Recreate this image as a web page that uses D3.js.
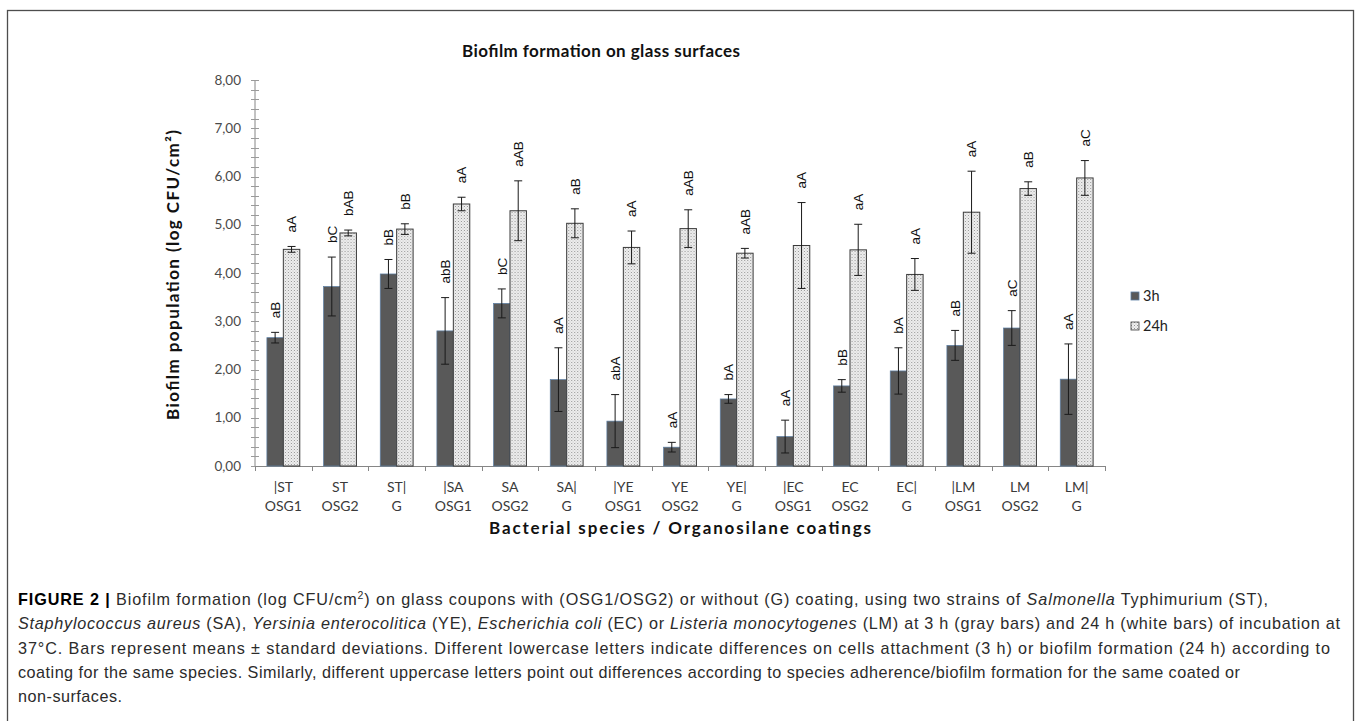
<!DOCTYPE html>
<html>
<head>
<meta charset="utf-8">
<script src="https://cdn.jsdelivr.net/npm/d3@7"></script>
<style>
  body { margin: 0; background: #fff; }
  svg { display: block; }
  .chart text { font-family: Lato, "Open Sans", sans-serif; }
  .caption { font-family: "Liberation Sans", Arial, sans-serif; font-size: 16.2px; fill: #2b2b2b; }
</style>
</head>
<body>
<div id="chart"></div>
<script>
// categories (two line tick labels)
var labelTop = ["|ST", "ST", "ST|", "|SA", "SA", "SA|", "|YE", "YE", "YE|", "|EC", "EC", "EC|", "|LM", "LM", "LM|"];
var labelBottom = ["OSG1", "OSG2", "G", "OSG1", "OSG2", "G", "OSG1", "OSG2", "G", "OSG1", "OSG2", "G", "OSG1", "OSG2", "G"];
var series = ["3h", "24h"];

// means and standard deviations (log CFU/cm2)
var mean3h = [2.66, 3.72, 3.98, 2.80, 3.37, 1.79, 0.93, 0.39, 1.39, 0.61, 1.66, 1.97, 2.50, 2.86, 1.80];
var sd3h = [0.11, 0.61, 0.30, 0.69, 0.30, 0.66, 0.55, 0.10, 0.09, 0.34, 0.13, 0.48, 0.31, 0.36, 0.73];
var mean24h = [4.49, 4.83, 4.91, 5.43, 5.29, 5.03, 4.53, 4.92, 4.41, 4.57, 4.48, 3.97, 5.26, 5.75, 5.97];
var sd24h = [0.06, 0.06, 0.11, 0.14, 0.62, 0.30, 0.34, 0.39, 0.10, 0.89, 0.53, 0.33, 0.85, 0.14, 0.36];

// significance letters
var letters3h = ["aB", "bC", "bB", "abB", "bC", "aA", "abA", "aA", "bA", "aA", "bB", "bA", "aB", "aC", "aA"];
var letters24h = ["aA", "bAB", "bB", "aA", "aAB", "aB", "aA", "aAB", "aAB", "aA", "aA", "aA", "aA", "aB", "aC"];

var yTicks = [0, 1, 2, 3, 4, 5, 6, 7, 8];

var data = labelTop.map(function (d, i) {
    return {
        key: i,
        top: d,
        bottom: labelBottom[i],
        values: [
            { s: "3h", mean: mean3h[i], sd: sd3h[i], letter: letters3h[i] },
            { s: "24h", mean: mean24h[i], sd: sd24h[i], letter: letters24h[i] }
        ]
    };
});

var W = 1358, H = 721;
var margin = { top: 80, left: 255 };
var width = 850, height = 386;

var svg = d3.select("#chart").append("svg")
    .attr("width", W)
    .attr("height", H);

// dotted fill like the excel pattern
var defs = svg.append("defs");
var pat = defs.append("pattern")
    .attr("id", "dots")
    .attr("width", 3)
    .attr("height", 3)
    .attr("patternUnits", "userSpaceOnUse");
pat.append("rect").attr("width", 3).attr("height", 3).attr("fill", "#efefef");
pat.append("rect").attr("x", 0).attr("y", 0).attr("width", 1).attr("height", 1).attr("fill", "#939393");
pat.append("rect").attr("x", 1.5).attr("y", 1.5).attr("width", 1).attr("height", 1).attr("fill", "#b8b8b8");

// outer frame
svg.append("rect")
    .attr("x", 7.5).attr("y", 10.5)
    .attr("width", 1346).attr("height", 730)
    .attr("fill", "none")
    .attr("stroke", "#4d4d4d")
    .attr("stroke-width", 1.3);

var chart = svg.append("g").attr("class", "chart");
var g = chart.append("g")
    .attr("transform", "translate(" + margin.left + "," + margin.top + ")");

//scales
var y = d3.scaleLinear().domain([0, 8]).range([height, 0]);

var x0 = d3.scaleBand()
    .domain(data.map(function (d) { return d.key; }))
    .range([0, width])
    .paddingInner(0.42)
    .paddingOuter(0.21);

var x1 = d3.scaleBand()
    .domain(series)
    .range([0, x0.bandwidth()]);

var color = d3.scaleOrdinal().domain(series).range(["#595959", "url(#dots)"]);
var stroke = d3.scaleOrdinal().domain(series).range(["#5b7ea4", "#3a3a3a"]);

//y-axis: crossing ticks, major every 1, minor every 0.2
var yAxis = g.append("g").attr("class", "y-axis");
yAxis.append("line")
    .attr("x1", 0).attr("x2", 0)
    .attr("y1", 0).attr("y2", height)
    .attr("stroke", "#868686");
yAxis.selectAll(".tick-line")
    .data(y.ticks(40))
    .enter().append("line")
    .attr("x1", -4).attr("x2", 4)
    .attr("y1", function (d) { return Math.round(y(d)) + 0.5; })
    .attr("y2", function (d) { return Math.round(y(d)) + 0.5; })
    .attr("stroke", "#9a9a9a");
yAxis.selectAll(".tick-label")
    .data(yTicks)
    .enter().append("text")
    .attr("x", -14)
    .attr("y", function (d) { return y(d); })
    .attr("dy", "0.35em")
    .attr("text-anchor", "end")
    .attr("fill", "#4a4a4a")
    .style("font-size", "13.5px")
    .text(function (d) { return d3.format(".2f")(d).replace(".", ","); });

//x-axis
var xAxis = g.append("g").attr("class", "x-axis")
    .attr("transform", "translate(0," + height + ")");
xAxis.append("line")
    .attr("x1", 0).attr("x2", width)
    .attr("y1", 0.5).attr("y2", 0.5)
    .attr("stroke", "#868686");
xAxis.selectAll(".xtick")
    .data(d3.range(data.length + 1))
    .enter().append("line")
    .attr("x1", function (d) { return Math.round(d * x0.step()) + 0.5; })
    .attr("x2", function (d) { return Math.round(d * x0.step()) + 0.5; })
    .attr("y1", 0).attr("y2", 5)
    .attr("stroke", "#868686");
var xl = xAxis.selectAll(".xlabel")
    .data(data)
    .enter().append("text")
    .attr("text-anchor", "middle")
    .attr("fill", "#3a3a3a")
    .style("font-size", "14px")
    .attr("transform", function (d) { return "translate(" + (x0(d.key) + x0.bandwidth() / 2) + ",0)"; });
xl.append("tspan").attr("x", 0).attr("y", 26).text(function (d) { return d.top; });
xl.append("tspan").attr("x", 0).attr("y", 45).text(function (d) { return d.bottom; });

// bars
var groups = g.selectAll(".grp")
    .data(data)
    .enter().append("g")
    .attr("class", "grp")
    .attr("transform", function (d) { return "translate(" + x0(d.key) + ",0)"; });

groups.selectAll("rect")
    .data(function (d) { return d.values; })
    .enter().append("rect")
    .attr("x", function (d) { return x1(d.s); })
    .attr("y", function (d) { return y(d.mean); })
    .attr("width", x1.bandwidth())
    .attr("height", function (d) { return height - y(d.mean); })
    .attr("fill", function (d) { return color(d.s); })
    .attr("stroke", function (d) { return stroke(d.s); })
    .attr("stroke-width", function (d) { return d.s === "3h" ? 0.7 : 1; });

// error bars
var err = groups.selectAll(".err")
    .data(function (d) { return d.values; })
    .enter().append("g")
    .attr("class", "err")
    .attr("stroke", "#1a1a1a")
    .attr("stroke-width", 1);
err.append("line")
    .attr("x1", function (d) { return x1(d.s) + x1.bandwidth() / 2; })
    .attr("x2", function (d) { return x1(d.s) + x1.bandwidth() / 2; })
    .attr("y1", function (d) { return y(d.mean + d.sd); })
    .attr("y2", function (d) { return y(d.mean - d.sd); });
err.append("line")
    .attr("x1", function (d) { return x1(d.s) + x1.bandwidth() / 2 - 4; })
    .attr("x2", function (d) { return x1(d.s) + x1.bandwidth() / 2 + 4; })
    .attr("y1", function (d) { return y(d.mean + d.sd); })
    .attr("y2", function (d) { return y(d.mean + d.sd); });
err.append("line")
    .attr("x1", function (d) { return x1(d.s) + x1.bandwidth() / 2 - 4; })
    .attr("x2", function (d) { return x1(d.s) + x1.bandwidth() / 2 + 4; })
    .attr("y1", function (d) { return y(d.mean - d.sd); })
    .attr("y2", function (d) { return y(d.mean - d.sd); });

// letters above error bars
groups.selectAll(".letter")
    .data(function (d) { return d.values; })
    .enter().append("text")
    .attr("class", "letter")
    .attr("transform", function (d) {
        return "translate(" + (x1(d.s) + x1.bandwidth() / 2) + "," + (y(d.mean + d.sd) - 14) + ") rotate(-90)";
    })
    .attr("dy", "0.35em")
    .attr("text-anchor", "start")
    .attr("fill", "#111")
    .style("font-family", "'Liberation Sans', Arial, sans-serif")
    .style("font-size", "13.5px")
    .text(function (d) { return d.letter; });

// titles
chart.append("text")
    .attr("x", 601)
    .attr("y", 57)
    .attr("text-anchor", "middle")
    .attr("fill", "#111")
    .attr("textLength", 278)
    .attr("lengthAdjust", "spacing")
    .style("font-size", "17px")
    .style("font-weight", "bold")
    .text("Biofilm formation on glass surfaces");

chart.append("text")
    .attr("x", margin.left + width / 2)
    .attr("y", margin.top + height + 68)
    .attr("text-anchor", "middle")
    .attr("fill", "#111")
    .attr("textLength", 382)
    .attr("lengthAdjust", "spacing")
    .style("font-size", "17px")
    .style("font-weight", "bold")
    .text("Bacterial species / Organosilane coatings");

chart.append("text")
    .attr("transform", "translate(179," + 275 + ") rotate(-90)")
    .attr("text-anchor", "middle")
    .attr("fill", "#111")
    .attr("textLength", 290)
    .attr("lengthAdjust", "spacing")
    .style("font-size", "17px")
    .style("font-weight", "bold")
    .text("Biofilm population (log CFU/cm²)");

// legend
var legend = chart.selectAll(".legend")
    .data(series)
    .enter().append("g")
    .attr("class", "legend")
    .attr("transform", function (d, i) { return "translate(1131," + (292 + i * 30) + ")"; });
legend.append("rect")
    .attr("width", 8).attr("height", 8)
    .attr("fill", function (d) { return color(d); })
    .attr("stroke", function (d) { return stroke(d); })
    .attr("stroke-width", 0.8);
legend.append("text")
    .attr("x", 12).attr("y", 4)
    .attr("dy", "0.35em")
    .attr("fill", "#222")
    .style("font-size", "14.5px")
    .text(function (d) { return d; });

// caption
var cap = svg.append("g").attr("class", "caption");
var lines = [
    [["FIGURE 2 | ", "b"], ["Biofilm formation (log CFU/cm", ""], ["2", "sup"], [") on glass coupons with (OSG1/OSG2) or without (G) coating, using two strains of ", "down"], ["Salmonella", "i"], [" Typhimurium (ST),", ""]],
    [["Staphylococcus aureus", "i"], [" (SA), ", ""], ["Yersinia enterocolitica", "i"], [" (YE), ", ""], ["Escherichia coli", "i"], [" (EC) or ", ""], ["Listeria monocytogenes", "i"], [" (LM) at 3 h (gray bars) and 24 h (white bars) of incubation at", ""]],
    [["37°C. Bars represent means ± standard deviations. Different lowercase letters indicate differences on cells attachment (3 h) or biofilm formation (24 h) according to", ""]],
    [["coating for the same species. Similarly, different uppercase letters point out differences according to species adherence/biofilm formation for the same coated or", ""]],
    [["non-surfaces.", ""]]
];
var lineWidths = [1250, 1322, 1312, 1222, 104];
lines.forEach(function (parts, i) {
    var t = cap.append("text")
        .attr("x", 18)
        .attr("y", 605 + i * 24.3)
        .attr("textLength", lineWidths[i])
        .attr("lengthAdjust", "spacing");
    parts.forEach(function (p) {
        var ts = t.append("tspan").text(p[0]);
        if (p[1] === "b") ts.style("font-weight", "bold").attr("fill", "#000");
        if (p[1] === "i") ts.style("font-style", "italic");
        if (p[1] === "sup") ts.attr("dy", "-6").style("font-size", "10.5px");
        if (p[1] === "down") ts.attr("dy", "6");
    });
});
</script>
</body>
</html>
